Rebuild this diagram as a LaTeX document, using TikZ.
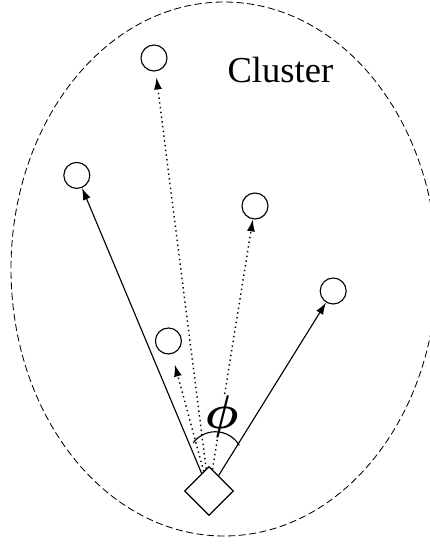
\documentclass[tikz,border=0pt]{standalone}
\usepackage{fontspec}
\setmainfont{Liberation Serif}
\usetikzlibrary{shapes.geometric, arrows.meta}

\begin{document}
\begin{tikzpicture}[
    member/.style={circle, draw, line width=0.8pt, minimum size=0.65cm, inner sep=0pt},
    head/.style={diamond, draw, line width=0.8pt, minimum size=1.225cm, inner sep=0pt, fill=white},
    arrow/.style={-{Latex[length=3mm, width=2mm]}, line width=0.8pt},
    dotarrow/.style={-{Latex[length=3mm, width=2mm]}, line width=1pt, dash pattern=on 1pt off 2.4pt},
    label/.style={font=\fontsize{26}{30}\selectfont},
]
\clip (0, 0) rectangle (10.75, 13.625);

\draw[line width=0.6pt, dash pattern=on 5pt off 2.5pt]
    (5.6, 6.9) ellipse [x radius=5.325, y radius=6.675];
\node[label] (cluster) at (7.01, 11.885) {Cluster};

\node[head] (dia) at (5.225, 1.35) {};
\node[member] (top) at (3.85, 12.175) {};
\node[member] (left) at (1.92, 9.24) {};
\node[member] (mid) at (6.375, 8.475) {};
\node[member] (right) at (8.33, 6.35) {};
\node[member] (low) at (4.21, 5.10) {};

\draw[arrow] (dia) -- (left);
\draw[arrow] (dia) -- (right);
\draw[dotarrow, shorten >=0.15cm] (dia) -- (top);
\draw[dotarrow] (dia) -- (mid);
\draw[dotarrow, shorten >=0.27cm] (dia) -- (low);

\node[fill=white, inner sep=0.5pt, font=\fontsize{24}{28}\selectfont\boldmath] (angle) at (5.54, 3.2)
    {\scalebox{1.35}{$\phi$}};
\draw[line width=0.8pt] ([shift={(0.16, 0.16)}]dia.north) ++(30.5:0.695)
    arc[start angle=30.5, end angle=142.8, radius=0.695];

\end{tikzpicture}
\end{document}
